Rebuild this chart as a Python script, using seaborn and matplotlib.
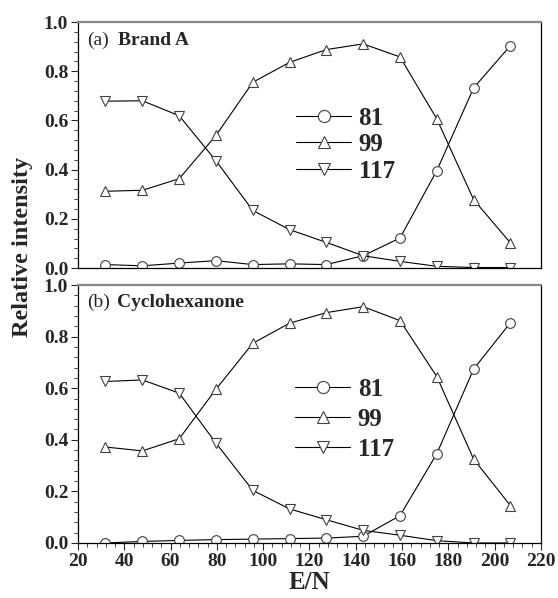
import numpy as np
import pandas as pd
import matplotlib
matplotlib.use("Agg")
import matplotlib.pyplot as plt
from matplotlib.ticker import AutoMinorLocator, FormatStrFormatter
import seaborn as sns

# ---------------- data ----------------
en = [31.8, 47.8, 63.7, 79.6, 95.5, 111.4, 127.3, 143.2, 159.1, 175.0, 190.9, 206.8]

a_81 = [0.014, 0.009, 0.020, 0.030, 0.014, 0.017, 0.014, 0.050, 0.122, 0.396, 0.732, 0.904]
a_99 = [0.312, 0.316, 0.363, 0.539, 0.755, 0.836, 0.888, 0.911, 0.858, 0.606, 0.278, 0.102]
a_117 = [0.678, 0.680, 0.619, 0.436, 0.234, 0.156, 0.104, 0.050, 0.027, 0.007, 0.002, 0.002]

b_81 = [0.000, 0.006, 0.010, 0.013, 0.015, 0.017, 0.019, 0.026, 0.106, 0.346, 0.674, 0.854]
b_99 = [0.372, 0.357, 0.404, 0.596, 0.774, 0.852, 0.893, 0.916, 0.862, 0.645, 0.325, 0.145]
b_117 = [0.626, 0.632, 0.581, 0.387, 0.204, 0.132, 0.090, 0.049, 0.030, 0.009, 0.000, 0.000]

series_labels = ["81", "99", "117"]
series_markers = ["o", "^", "v"]
panels = [("(a)", "Brand A", [a_81, a_99, a_117]),
          ("(b)", "Cyclohexanone", [b_81, b_99, b_117])]

xticks = [20, 40, 60, 80, 100, 120, 140, 160, 180, 200, 220]
yticks = [0.0, 0.2, 0.4, 0.6, 0.8, 1.0]

# ---------------- style ----------------
sns.set_style("ticks")
plt.rcParams["font.family"] = ["Liberation Serif", "DejaVu Serif"]
plt.rcParams["font.weight"] = "bold"
plt.rcParams["axes.labelweight"] = "bold"

fig = plt.figure(figsize=(5.58, 5.98), dpi=100)
ax_top = fig.add_axes([0.1398, 0.5518, 0.8297, 0.4114])
ax_bot = fig.add_axes([0.1398, 0.0920, 0.8297, 0.4314])
axes = [ax_top, ax_bot]

legend_pos = [(0.471, 0.502, 0.14), (0.469, 0.480, 0.28)]
title_y = [0.925, 0.934]
title_x2 = [0.086, 0.084]

for i, (ax, (tag, name, vals)) in enumerate(zip(axes, panels)):
    for lab, mk, v in zip(series_labels, series_markers, vals):
        df = pd.DataFrame({"E/N": en, "I": v})
        sns.lineplot(data=df, x="E/N", y="I", ax=ax, sort=False, errorbar=None,
                     color="black", linewidth=0.8, marker=mk, markersize=7,
                     markerfacecolor="white", markeredgecolor="#404040",
                     markeredgewidth=0.8, label=lab, legend=False)
    ax.set_xlim(20, 220)
    ax.set_ylim(0, 1.0)
    ax.set_xticks(xticks)
    ax.set_yticks(yticks)
    ax.yaxis.set_major_formatter(FormatStrFormatter("%.1f"))
    ax.xaxis.set_minor_locator(AutoMinorLocator(5))
    ax.yaxis.set_minor_locator(AutoMinorLocator(5))
    ax.tick_params(axis="both", which="major", direction="out", length=5,
                   width=0.8, labelsize=14, pad=2)
    ax.tick_params(axis="both", which="minor", direction="out", length=3, width=0.6)
    for lbl in ax.get_xticklabels() + ax.get_yticklabels():
        lbl.set_fontweight("bold")
    for s in ["left", "bottom", "right"]:
        ax.spines[s].set_color("black")
        ax.spines[s].set_linewidth(0.9)
    ax.spines["top"].set_color("#888888")
    ax.spines["top"].set_linewidth(1.6)
    ax.set_xlabel("")
    ax.set_ylabel("")

    ax.text(0.019, title_y[i], tag, transform=ax.transAxes, fontsize=14,
            fontweight="normal", va="center", ha="left")
    ax.text(title_x2[i], title_y[i], name, transform=ax.transAxes, fontsize=14,
            fontweight="bold", va="center", ha="left")

    lx, ly, ls = legend_pos[i]
    leg = ax.legend(loc="center left", bbox_to_anchor=(lx, ly), frameon=False,
                    borderaxespad=0, borderpad=0, handlelength=2.2,
                    handletextpad=0.3, labelspacing=ls, markerscale=1.25,
                    prop={"family": "Liberation Serif", "weight": "bold", "size": 18})

ax_top.tick_params(axis="x", which="both", bottom=False, labelbottom=False)
ax_bot.set_xlabel("E/N", fontsize=18, fontweight="bold", labelpad=1)
fig.text(0.040, 0.587, "Relative intensity", rotation=90, fontsize=17.5,
         fontweight="bold", va="center", ha="center")

fig.savefig("out.png", dpi=100)
